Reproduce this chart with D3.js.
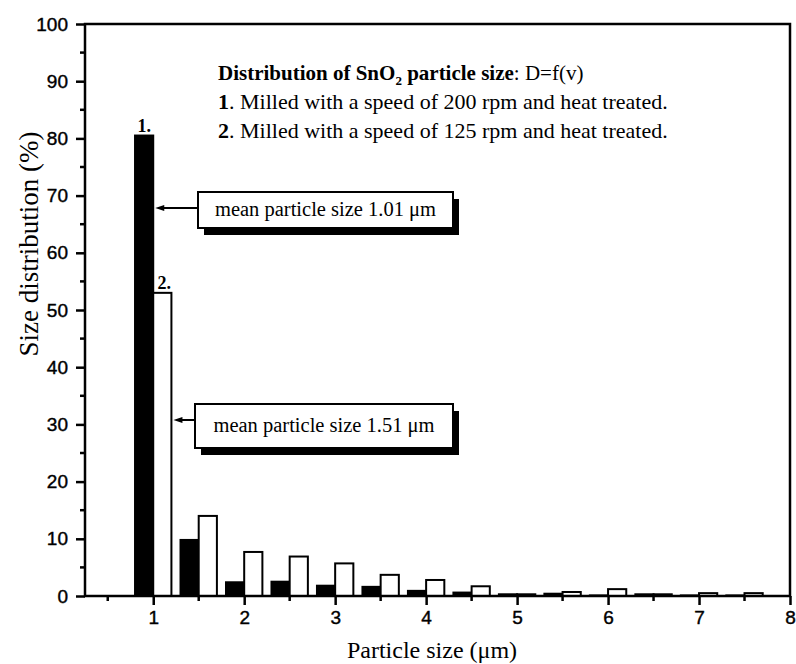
<!DOCTYPE html>
<html lang="en">
<head>
    <meta charset="UTF-8">
    <title>SnO2 particle size distribution</title>
    <script src="https://d3js.org/d3.v7.min.js"></script>
    <style>
        body { margin: 0; background: #fff; }
        svg { display: block; }
        .tick text { font-family: "Liberation Sans", Arial, sans-serif; font-size: 19px; fill: #000; }
        .serif { font-family: "Liberation Serif", "Times New Roman", serif; fill: #000; }
    </style>
</head>
<body>
    <div id="chart"></div>
    <script>
        // bin centres (um); black bar sits left of the centre, white bar right
        const bins = [1, 1.5, 2, 2.5, 3, 3.5, 4, 4.5, 5, 5.5, 6, 6.5, 7, 7.5];
        const series1 = [80.5, 9.8, 2.4, 2.5, 1.8, 1.6, 0.9, 0.6, 0.3, 0.4, 0.1, 0.3, 0.1, 0.1]; // 200 rpm
        const series2 = [53, 14, 7.7, 6.9, 5.7, 3.7, 2.8, 1.7, 0.3, 0.7, 1.2, 0.3, 0.5, 0.5];    // 125 rpm
        const xMajor = [1, 2, 3, 4, 5, 6, 7, 8];
        const yMajor = [0, 10, 20, 30, 40, 50, 60, 70, 80, 90, 100];

        const width = 796, height = 664;
        const margin = { top: 24, right: 6, bottom: 68, left: 85 };
        const barW = 0.2;

        const svg = d3.select("#chart").append("svg")
            .attr("width", width)
            .attr("height", height);

        const x = d3.scaleLinear().domain([0.25, 8]).range([margin.left, width - margin.right]);
        const y = d3.scaleLinear().domain([0, 100]).range([height - margin.bottom, margin.top]);

        // bars
        const g = svg.append("g");
        g.selectAll("rect.s1").data(bins).enter().append("rect")
            .attr("class", "s1")
            .attr("x", d => x(d - barW))
            .attr("width", x(barW) - x(0))
            .attr("y", (d, i) => y(series1[i]))
            .attr("height", (d, i) => y(0) - y(series1[i]))
            .attr("fill", "#000")
            .attr("stroke", "#000")
            .attr("stroke-width", 2);

        g.selectAll("rect.s2").data(bins).enter().append("rect")
            .attr("class", "s2")
            .attr("x", d => x(d))
            .attr("width", x(barW) - x(0))
            .attr("y", (d, i) => y(series2[i]))
            .attr("height", (d, i) => y(0) - y(series2[i]))
            .attr("fill", "#fff")
            .attr("stroke", "#000")
            .attr("stroke-width", 2);

        // axes
        const xAxis = d3.axisBottom(x).tickValues(xMajor).tickSize(9).tickPadding(6).tickFormat(d3.format("d"));
        const yAxis = d3.axisLeft(y).tickValues(yMajor).tickSize(9).tickPadding(8).tickFormat(d3.format("d"));

        const gx = svg.append("g").attr("transform", `translate(0,${y(0)})`).call(xAxis);
        const gy = svg.append("g").attr("transform", `translate(${x(0.25)},0)`).call(yAxis);
        [gx, gy].forEach(a => {
            a.select(".domain").remove();
            a.selectAll(".tick line").attr("stroke", "#000").attr("stroke-width", 2.5);
            a.selectAll(".tick text").attr("stroke", "#000").attr("stroke-width", 0.4);
        });

        // minor ticks
        svg.append("g").selectAll("line")
            .data(d3.range(0.5, 8, 1))
            .enter().append("line")
            .attr("x1", d => x(d)).attr("x2", d => x(d))
            .attr("y1", y(0)).attr("y2", y(0) + 5)
            .attr("stroke", "#000").attr("stroke-width", 2.5);
        svg.append("g").selectAll("line")
            .data(d3.range(5, 100, 10))
            .enter().append("line")
            .attr("x1", x(0.25)).attr("x2", x(0.25) - 5)
            .attr("y1", d => y(d)).attr("y2", d => y(d))
            .attr("stroke", "#000").attr("stroke-width", 2.5);

        // frame
        svg.append("rect")
            .attr("x", x(0.25)).attr("y", y(100))
            .attr("width", x(8) - x(0.25)).attr("height", y(0) - y(100))
            .attr("fill", "none").attr("stroke", "#000").attr("stroke-width", 2.5);

        // axis titles
        svg.append("text").attr("class", "serif")
            .attr("x", 432).attr("y", 658)
            .attr("text-anchor", "middle").style("font-size", "24px")
            .text("Particle size (μm)");
        svg.append("text").attr("class", "serif")
            .attr("transform", "translate(38,244) rotate(-90)")
            .attr("text-anchor", "middle").style("font-size", "27px")
            .text("Size distribution (%)");

        // series labels
        svg.append("text").attr("class", "serif")
            .attr("x", x(bins[0] - barW / 2)).attr("y", y(series1[0]) - 4)
            .attr("text-anchor", "middle").style("font-size", "18px").style("font-weight", "bold")
            .text("1.");
        svg.append("text").attr("class", "serif")
            .attr("x", x(bins[0] + barW / 2) + 2).attr("y", y(series2[0]) - 4)
            .attr("text-anchor", "middle").style("font-size", "18px").style("font-weight", "bold")
            .text("2.");

        // legend text
        const leg = svg.append("g").attr("class", "serif").style("font-size", "22px");
        const l1 = leg.append("text").attr("x", 218).attr("y", 80).style("font-size", "21px");
        l1.append("tspan").style("font-weight", "bold").text("Distribution of SnO");
        l1.append("tspan").style("font-weight", "bold").style("font-size", "13px").attr("dy", 5).text("2");
        l1.append("tspan").style("font-weight", "bold").attr("dy", -5).text(" particle size");
        l1.append("tspan").text(": D=f(v)");
        const l2 = leg.append("text").attr("x", 218).attr("y", 109);
        l2.append("tspan").style("font-weight", "bold").text("1");
        l2.append("tspan").text(". Milled with a speed of 200 rpm and heat treated.");
        const l3 = leg.append("text").attr("x", 218).attr("y", 138);
        l3.append("tspan").style("font-weight", "bold").text("2");
        l3.append("tspan").text(". Milled with a speed of 125 rpm and heat treated.");

        // mean-size callouts
        function callout(bx, by, bw, bh, tipX, ty, label) {
            svg.append("rect").attr("x", bx + 6).attr("y", by + 7).attr("width", bw).attr("height", bh).attr("fill", "#000");
            svg.append("rect").attr("x", bx).attr("y", by).attr("width", bw).attr("height", bh)
                .attr("fill", "#fff").attr("stroke", "#000").attr("stroke-width", 2);
            svg.append("line").attr("x1", bx).attr("x2", tipX + 6).attr("y1", ty).attr("y2", ty)
                .attr("stroke", "#000").attr("stroke-width", 2);
            svg.append("path")
                .attr("d", `M${tipX},${ty}L${tipX + 9},${ty - 3}L${tipX + 9},${ty + 3}Z`)
                .attr("fill", "#000");
            svg.append("text").attr("class", "serif")
                .attr("x", bx + bw / 2).attr("y", by + bh / 2 + 6)
                .attr("text-anchor", "middle").style("font-size", "20.5px")
                .text(label);
        }
        callout(198, 192, 255, 36, x(bins[0]) + 2, 208, "mean particle size 1.01 μm");
        callout(195, 404, 258, 44, x(bins[0] + barW) + 2, 420, "mean particle size 1.51 μm");
    </script>
</body>
</html>
